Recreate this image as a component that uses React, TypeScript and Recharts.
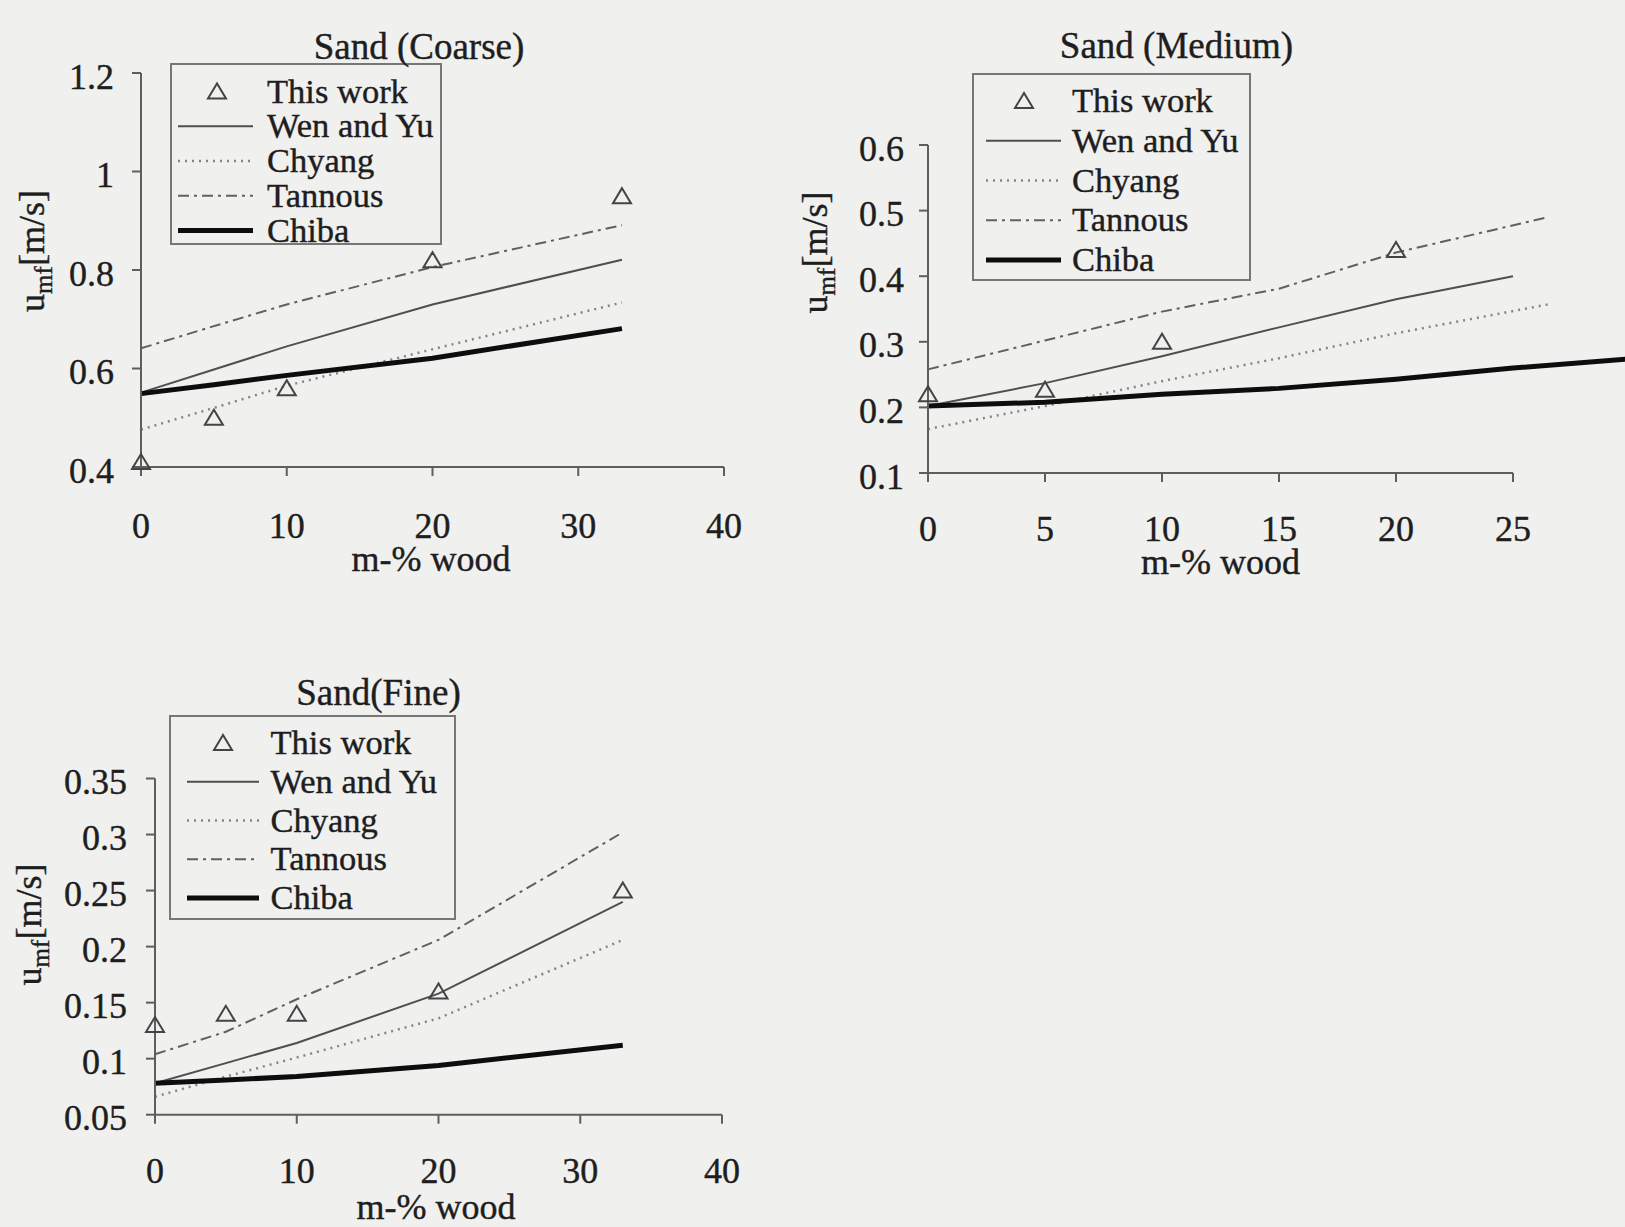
import React from 'react';
import { ComposedChart, Line, Scatter, XAxis, YAxis, Legend, ReferenceLine } from 'recharts';

// ---- data (m-% wood vs u_mf in m/s) ----
const coarseWood = [0, 5, 10, 20, 33];
const coarseThisWork = [0.41, 0.5, 0.56, 0.82, 0.95];
const coarseWenYu = [0.551, 0.598, 0.645, 0.73, 0.821];
const coarseChyang = [0.476, 0.52, 0.565, 0.639, 0.734];
const coarseTannous = [0.641, 0.686, 0.73, 0.806, 0.891];
const coarseChiba = [0.549, 0.567, 0.586, 0.621, 0.681];

const mediumThisWorkWood = [0, 5, 10, 20];
const mediumThisWork = [0.22, 0.227, 0.3, 0.44];
const mediumWood = [0, 5, 10, 15, 20, 25];
const mediumWenYu = [0.202, 0.237, 0.278, 0.322, 0.365, 0.4];
const mediumLongWood = [0, 5, 10, 15, 20, 26.5];
const mediumChyang = [0.167, 0.202, 0.24, 0.275, 0.313, 0.357];
const mediumTannous = [0.258, 0.302, 0.346, 0.381, 0.436, 0.49];
const mediumChibaWood = [0, 5, 10, 15, 20, 25, 30];
const mediumChiba = [0.202, 0.208, 0.22, 0.229, 0.243, 0.26, 0.274];

const fineWood = [0, 5, 10, 20, 33];
const fineThisWork = [0.13, 0.14, 0.14, 0.16, 0.25];
const fineWenYu = [0.078, 0.096, 0.114, 0.158, 0.24];
const fineChyang = [0.066, 0.084, 0.101, 0.136, 0.206];
const fineTannous = [0.104, 0.124, 0.153, 0.206, 0.302];
const fineChiba = [0.078, 0.081, 0.084, 0.094, 0.112];

const coarseXTicks = [0, 10, 20, 30, 40];
const coarseYTicks = [0.4, 0.6, 0.8, 1, 1.2];
const mediumXTicks = [0, 5, 10, 15, 20, 25];
const mediumYTicks = [0.1, 0.2, 0.3, 0.4, 0.5, 0.6];
const fineXTicks = [0, 10, 20, 30, 40];
const fineYTicks = [0.05, 0.1, 0.15, 0.2, 0.25, 0.3, 0.35];

const seriesNames = ['This work', 'Wen and Yu', 'Chyang', 'Tannous', 'Chiba'];

const pts = (xs: number[], ys: number[]) => xs.map((x, i) => ({ x, y: ys[i] }));

const FONT = "'Liberation Serif', 'Times New Roman', serif";
const INK = '#1e1e1e';
const AXIS = '#5e5e5e';

// scanned print looks heavier than a clean render
const inkText = { fontFamily: FONT, fill: INK, stroke: INK, strokeWidth: 0.4 };

const lineStyles: any[] = [
  null,
  { stroke: '#4f4f4f', strokeWidth: 2 },
  { stroke: '#858585', strokeWidth: 2.5, strokeDasharray: '2 5' },
  { stroke: '#606060', strokeWidth: 2, strokeDasharray: '11 5 3 5' },
  { stroke: '#0d0d0d', strokeWidth: 5 },
];

const Triangle = ({ cx, cy }: any) => (
  <polygon
    points={`${cx},${cy - 8} ${cx - 9},${cy + 7} ${cx + 9},${cy + 7}`}
    fill='none'
    stroke='#444'
    strokeWidth={2}
  />
);

const LegendBox = ({ lb }: any) => (
  <svg width={lb.width} height={lb.height + 12} style={{ display: 'block', overflow: 'visible' }}>
    <rect x={1} y={1} width={lb.width - 2} height={lb.height - 2} fill='none' stroke='#777' strokeWidth={2} />
    {seriesNames.map((name, i) => {
      const cy = lb.firstRow + i * lb.rowStep;
      return (
        <g key={name}>
          {i === 0 ? (
            <Triangle cx={lb.triX} cy={cy} />
          ) : (
            <line x1={lb.lineX1} x2={lb.lineX2} y1={cy} y2={cy} {...lineStyles[i]} />
          )}
          <text x={lb.textX} y={cy + 11.2} fontSize={34.5} {...inkText}>
            {name}
          </text>
        </g>
      );
    })}
  </svg>
);

const charts = [
  {
    key: 'coarse',
    title: 'Sand (Coarse)',
    left: 0, top: 0, width: 760, height: 600,
    plotLeft: 141, plotRight: 724, plotTop: 73, plotBottom: 467,
    xDomain: [0, 40], yDomain: [0.4, 1.2], xTicks: coarseXTicks, yTicks: coarseYTicks,
    thisWork: pts(coarseWood, coarseThisWork),
    lines: [pts(coarseWood, coarseWenYu), pts(coarseWood, coarseChyang), pts(coarseWood, coarseTannous), pts(coarseWood, coarseChiba)],
    titlePos: [419, 59], xLabelPos: [431, 571], yLabelPos: [44, 251],
    xTickOffset: 71, yTickGap: 27,
    legend: { left: 170, top: 63, width: 272, height: 182, firstRow: 28.5, rowStep: 34.75, lineX1: 8, lineX2: 83, textX: 97, triX: 47 },
  },
  {
    key: 'medium',
    title: 'Sand (Medium)',
    left: 760, top: 0, width: 880, height: 600,
    plotLeft: 168, plotRight: 870, plotTop: 145, plotBottom: 473,
    xDomain: [0, 30], yDomain: [0.1, 0.6], xTicks: mediumXTicks, yTicks: mediumYTicks,
    axisEnd: 25,
    thisWork: pts(mediumThisWorkWood, mediumThisWork),
    lines: [pts(mediumWood, mediumWenYu), pts(mediumLongWood, mediumChyang), pts(mediumLongWood, mediumTannous), pts(mediumChibaWood, mediumChiba)],
    titlePos: [416.5, 58], xLabelPos: [460.6, 574], yLabelPos: [67, 252.5],
    xTickOffset: 67.5, yTickGap: 24,
    legend: { left: 212, top: 73, width: 279, height: 208, firstRow: 28, rowStep: 39.75, lineX1: 14, lineX2: 89, textX: 100, triX: 52 },
  },
  {
    key: 'fine',
    title: 'Sand(Fine)',
    left: 0, top: 640, width: 760, height: 587,
    plotLeft: 155, plotRight: 722, plotTop: 138.5, plotBottom: 474.7,
    xDomain: [0, 40], yDomain: [0.05, 0.35], xTicks: fineXTicks, yTicks: fineYTicks,
    thisWork: pts(fineWood, fineThisWork),
    lines: [pts(fineWood, fineWenYu), pts(fineWood, fineChyang), pts(fineWood, fineTannous), pts(fineWood, fineChiba)],
    titlePos: [378.5, 65], xLabelPos: [436, 579], yLabelPos: [41, 284.5],
    xTickOffset: 68, yTickGap: 28,
    legend: { left: 169, top: 75, width: 287, height: 205, firstRow: 28, rowStep: 38.75, lineX1: 18, lineX2: 90, textX: 101.5, triX: 54 },
  },
];

const TICK_SIZE = 9;

const SandChart = ({ c }: any) => {
  const axisStyle = { stroke: AXIS, strokeWidth: 2 };
  const [yx, yy] = c.yLabelPos;
  return (
    <div style={{ position: 'absolute', left: c.left, top: c.top, width: c.width, height: c.height }}>
      <ComposedChart
        width={c.width}
        height={c.height}
        margin={{ top: c.plotTop, right: c.width - c.plotRight, bottom: 0, left: 0 }}
      >
        <XAxis
          type='number'
          dataKey='x'
          domain={c.xDomain}
          ticks={c.xTicks}
          interval={0}
          height={c.height - c.plotBottom}
          axisLine={c.axisEnd ? false : axisStyle}
          tickLine={axisStyle}
          tickSize={TICK_SIZE}
          tickMargin={2}
          tick={(p: any) => (
            <text x={p.x} y={p.y + c.xTickOffset - TICK_SIZE - 2} textAnchor='middle' fontSize={36} {...inkText}>
              {p.payload.value}
            </text>
          )}
          label={{
            content: () => (
              <text x={c.xLabelPos[0]} y={c.xLabelPos[1]} textAnchor='middle' fontSize={36} {...inkText}>
                m-% wood
              </text>
            ),
          }}
        />
        <YAxis
          type='number'
          dataKey='y'
          domain={c.yDomain}
          ticks={c.yTicks}
          interval={0}
          width={c.plotLeft}
          axisLine={axisStyle}
          tickLine={axisStyle}
          tickSize={TICK_SIZE}
          tickMargin={2}
          tick={(p: any) => (
            <text x={p.x - (c.yTickGap - TICK_SIZE - 2)} y={p.y + 15.5} textAnchor='end' fontSize={36} {...inkText}>
              {p.payload.value}
            </text>
          )}
          label={{
            content: () => (
              <text
                x={yx}
                y={yy}
                transform={`rotate(-90 ${yx} ${yy})`}
                textAnchor='middle'
                fontSize={36}
                {...inkText}
              >
                u
                <tspan fontSize={25} dy={8}>mf</tspan>
                <tspan dy={-8}>[m/s]</tspan>
              </text>
            ),
          }}
        />
        {c.axisEnd && (
          <ReferenceLine
            segment={[{ x: 0, y: c.yDomain[0] }, { x: c.axisEnd, y: c.yDomain[0] }]}
            stroke={AXIS}
            strokeWidth={2}
          />
        )}
        {c.lines.map((data: any, i: number) => (
          <Line
            key={seriesNames[i + 1]}
            name={seriesNames[i + 1]}
            data={data}
            dataKey='y'
            type='linear'
            dot={false}
            activeDot={false}
            isAnimationActive={false}
            {...lineStyles[i + 1]}
          />
        ))}
        <Scatter
          name={seriesNames[0]}
          data={c.thisWork}
          dataKey='y'
          isAnimationActive={false}
          shape={(p: any) => <Triangle cx={p.cx} cy={p.cy} />}
        />
        <Legend
          layout='vertical'
          align='center'
          verticalAlign='middle'
          wrapperStyle={{ left: c.legend.left, top: c.legend.top, width: c.legend.width, height: c.legend.height + 12 }}
          content={() => <LegendBox lb={c.legend} />}
        />
      </ComposedChart>
      <svg
        width={c.width}
        height={c.height}
        style={{ position: 'absolute', left: 0, top: 0, pointerEvents: 'none' }}
      >
        <text x={c.titlePos[0]} y={c.titlePos[1]} textAnchor='middle' fontSize={37} {...inkText}>
          {c.title}
        </text>
      </svg>
    </div>
  );
};

const App = () => (
  <div
    style={{
      position: 'fixed',
      left: 0,
      top: 0,
      width: 1625,
      height: 1227,
      overflow: 'hidden',
      background: '#f0f0ef',
    }}
  >
    {charts.map((c) => (
      <SandChart key={c.key} c={c} />
    ))}
  </div>
);

export default App;
